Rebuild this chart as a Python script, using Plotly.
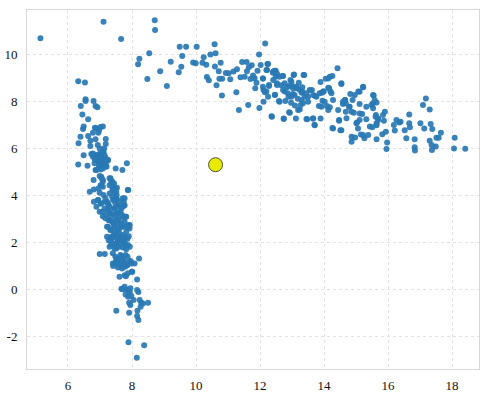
import plotly.graph_objects as go

# ---- data ----
outlier_pts = [(5.14, 10.70), (7.11, 11.40), (7.66, 10.67), (8.71, 11.46), (8.72, 11.05)]

arc_pts = [
    (8.19, 9.59), (8.23, 9.83), (8.54, 10.06), (8.48, 8.96), (8.88, 9.29), (9.09, 8.67), (9.21, 9.70),
    (9.46, 9.25), (9.54, 9.49), (9.49, 10.34), (9.57, 9.94), (9.69, 10.34), (9.91, 9.67), (9.99, 9.63),
    (10.02, 10.34), (10.20, 9.66), (10.24, 9.89), (10.32, 9.57), (10.34, 9.05), (10.40, 8.91), (10.45, 10.01),
    (10.58, 10.44), (10.61, 10.06), (10.59, 9.50), (10.64, 8.70), (10.71, 9.29), (10.73, 8.98), (10.77, 9.66),
    (10.82, 8.98), (10.81, 8.26), (10.93, 9.22), (11.02, 9.21), (11.07, 8.95), (11.17, 9.28), (11.26, 8.40),
    (11.28, 9.38), (11.34, 7.65), (11.39, 9.04), (11.44, 9.69), (11.52, 9.06), (11.58, 9.69), (11.59, 9.30),
    (11.63, 7.86), (11.65, 9.46), (11.70, 8.96), (11.74, 9.55), (11.78, 9.11), (11.83, 9.00), (11.85, 8.57),
    (11.89, 8.81), (11.92, 9.32), (11.97, 10.01), (11.98, 7.73), (12.02, 9.56), (12.09, 8.99), (12.11, 8.50),
    (12.16, 10.47), (12.20, 9.35), (12.15, 8.40), (12.23, 9.60), (12.25, 8.21), (12.28, 8.67), (12.36, 7.38),
    (12.40, 9.23), (12.46, 9.32), (12.47, 8.30), (12.49, 9.06), (12.53, 8.71), (12.59, 8.03), (12.66, 8.70),
    (12.72, 9.09), (12.74, 7.29), (12.77, 8.43), (12.79, 8.03), (12.84, 8.61), (12.89, 8.21), (12.91, 7.55),
    (12.95, 8.92), (12.97, 7.96), (13.01, 8.67), (13.03, 8.33), (13.05, 9.13), (13.09, 7.84), (13.14, 8.57),
    (13.18, 8.13), (13.21, 8.81), (13.24, 7.67), (13.30, 8.38), (13.32, 8.61), (13.36, 9.13), (13.34, 7.93),
    (13.39, 8.21), (13.47, 7.25), (13.50, 8.21), (13.62, 8.50), (13.65, 7.29), (13.70, 7.02), (13.72, 8.24),
    (13.84, 7.82), (13.89, 8.84), (13.89, 7.29), (13.93, 8.38), (13.95, 8.04), (13.99, 8.43), (14.05, 8.98),
    (14.09, 7.82), (14.13, 8.59), (14.18, 9.06), (14.18, 7.76), (14.20, 8.43), (14.26, 9.09), (14.26, 6.88),
    (14.42, 9.42), (14.44, 7.65), (14.47, 7.19), (14.51, 6.79), (14.54, 8.75), (14.59, 7.90), (14.65, 8.07),
    (14.70, 7.30), (14.78, 7.79), (14.82, 8.33), (14.86, 6.30), (14.89, 8.07), (14.93, 7.53), (14.97, 6.48),
    (15.03, 7.11), (15.07, 8.43), (15.11, 7.90), (15.15, 6.60), (15.19, 7.48), (15.22, 8.61), (15.26, 6.45),
    (15.32, 7.25), (15.38, 6.58),
    # dense middle of the arc
    (12.77, 8.78), (12.91, 8.67), (12.98, 8.85), (13.03, 8.57), (13.14, 8.64), (13.24, 8.50), (12.87, 8.36),
    (12.98, 8.21), (13.08, 8.28), (13.32, 8.43), (13.45, 8.36), (13.55, 8.50), (13.66, 8.28), (13.86, 8.36),
    (13.97, 8.43), (14.13, 8.99), (14.16, 8.57), (14.23, 8.36), (14.54, 8.78), (14.59, 8.00), (14.68, 7.93),
    (14.80, 7.79), (14.96, 8.28), (15.11, 8.42), (15.22, 8.64), (15.32, 7.79), (15.11, 7.50), (15.01, 7.08),
    (15.06, 6.86), (15.22, 6.58), (14.86, 6.51), (14.54, 6.79), (14.28, 6.86), (14.47, 7.22), (14.68, 7.57),
    (14.13, 7.65), (13.92, 7.79), (13.66, 7.29), (13.71, 7.00), (13.45, 7.26), (13.12, 7.29), (12.74, 7.26),
    (12.37, 7.36), (12.93, 7.53), (13.19, 7.65), (13.27, 7.86), (12.61, 8.00), (12.46, 8.28), (12.20, 8.43),
    (12.09, 8.64), (12.28, 8.71), (12.53, 8.78), (12.61, 9.06), (12.41, 8.92), (12.11, 8.00), (12.72, 8.50),
    (13.30, 8.07), (13.50, 8.00), (13.76, 8.21), (14.02, 8.00), (14.28, 8.07), (14.66, 8.07), (14.86, 7.57),
    (12.22, 9.35), (12.41, 9.28), (12.49, 9.32), (12.53, 9.19), (12.70, 9.09), (13.06, 9.16), (13.38, 9.13),
    (12.09, 8.99), (12.25, 9.60),
    # right part of the arc
    (15.55, 8.26), (15.48, 7.86), (15.53, 7.93), (15.64, 7.97), (15.62, 7.43), (15.69, 7.29), (15.84, 7.43),
    (15.90, 7.57), (15.87, 7.19), (15.64, 7.08), (15.51, 6.91), (15.64, 6.40), (15.82, 6.62), (15.93, 6.72),
    (15.97, 6.26), (15.95, 5.99), (16.18, 7.01), (16.21, 6.77), (16.26, 7.22), (16.35, 7.11), (16.39, 7.15),
    (16.52, 6.79), (16.57, 6.44), (16.66, 7.08), (16.68, 6.91), (16.66, 7.46), (16.83, 6.40), (16.83, 6.06),
    (16.84, 5.92), (17.01, 7.08), (17.09, 7.86), (17.18, 8.14), (17.30, 7.67), (17.13, 6.86), (17.33, 7.05),
    (17.38, 6.84), (17.30, 6.34), (17.36, 6.16), (17.37, 5.94), (17.49, 6.09), (17.51, 6.47), (17.58, 6.47),
    (17.65, 6.68), (18.08, 6.47), (18.06, 6.01), (18.41, 6.00),
    (15.53, 7.72), (15.43, 6.94), (15.64, 7.00), (15.11, 7.22), (15.61, 7.36), (15.69, 7.22), (15.58, 8.07),
    (15.53, 8.28),
]

left_pts = [
    (6.32, 8.87), (6.53, 8.82), (6.40, 7.82), (6.55, 8.10), (6.55, 8.03), (6.80, 8.03), (6.86, 7.82),
    (6.92, 7.76), (6.45, 7.45), (6.63, 7.25), (6.49, 6.94), (6.47, 6.84), (6.89, 6.87), (6.84, 6.89),
    (6.97, 6.79), (7.02, 6.92), (7.09, 6.94), (6.78, 6.68), (6.95, 6.68), (6.39, 6.51), (6.33, 6.23),
    (6.63, 6.54), (6.70, 6.34), (6.70, 6.11), (6.86, 6.40), (6.93, 6.16), (7.18, 6.41), (7.18, 6.20),
    (6.49, 5.72), (6.32, 5.33), (6.61, 5.28), (6.73, 5.77), (6.78, 5.66), (6.84, 5.55), (6.89, 5.73),
    (6.94, 5.63), (7.00, 5.80), (7.04, 5.69), (7.07, 5.55), (7.11, 5.87), (7.14, 5.73), (7.17, 5.63),
    (6.94, 5.45), (7.00, 5.38), (7.05, 5.30), (7.09, 5.45), (7.14, 5.38), (7.20, 5.26), (7.22, 5.48),
    (7.25, 5.52), (6.98, 5.21), (6.86, 5.09), (7.02, 5.12), (7.09, 5.23), (7.13, 6.01), (6.99, 6.01),
    (6.80, 4.67), (6.81, 4.27), (6.68, 4.17), (6.99, 4.84), (7.05, 4.74), (7.09, 4.60), (7.02, 4.45),
    (6.95, 4.31), (7.09, 4.38), (6.99, 4.13), (7.49, 5.16), (7.70, 5.09), (7.84, 5.38), (7.33, 4.74),
    (7.38, 4.60), (7.44, 4.52), (7.53, 4.34), (7.30, 4.45), (7.40, 4.31), (7.45, 4.13), (7.52, 4.03),
    (7.88, 4.24), (6.81, 3.74), (6.94, 3.82), (7.02, 3.67), (6.89, 3.53), (6.99, 3.32), (7.11, 4.03),
    (7.17, 3.89), (7.22, 3.74), (7.27, 3.60), (7.14, 3.46), (7.25, 3.39), (7.32, 3.25), (7.09, 3.13),
    (7.17, 3.04), (7.38, 3.96), (7.43, 3.82), (7.48, 3.67), (7.53, 3.84), (7.58, 3.53), (7.45, 3.46),
    (7.50, 3.25), (7.64, 3.32), (7.69, 3.18), (7.74, 3.56), (7.71, 3.89), (7.74, 3.74), (7.27, 2.96),
    (7.38, 2.89), (7.43, 2.75), (7.53, 2.99), (7.58, 2.82), (7.22, 2.68), (7.32, 2.54), (7.48, 2.47),
    (7.60, 2.61), (7.69, 2.68), (7.77, 2.89), (7.80, 3.11), (7.90, 2.75), (7.92, 2.61), (7.22, 2.26),
    (7.27, 2.11), (7.35, 2.18), (7.43, 2.33), (7.48, 2.23), (7.56, 2.09), (7.64, 2.28), (7.71, 2.14),
    (7.80, 2.23), (7.86, 2.17), (7.90, 2.28),
    # dense middle (upper)
    (6.78, 5.80), (6.89, 5.66), (6.99, 5.73), (7.09, 5.87), (6.94, 5.52), (7.04, 5.38), (7.15, 5.45),
    (7.25, 5.52), (6.83, 5.38), (6.97, 5.23), (7.09, 5.16), (7.20, 5.23), (6.89, 5.09), (7.04, 4.81),
    (7.09, 4.67), (7.04, 4.45), (7.30, 4.74), (7.35, 4.60), (7.41, 4.45), (7.46, 4.31), (7.51, 4.17),
    (7.39, 4.24), (7.30, 4.10), (6.94, 3.82), (7.04, 3.67), (7.15, 3.74), (7.25, 3.67), (7.30, 3.53),
    (7.41, 3.82), (7.51, 3.89), (7.61, 3.74), (7.56, 3.60), (7.46, 3.46), (7.67, 3.46), (7.77, 3.89),
    (7.77, 3.60), (7.87, 4.24), (7.09, 3.32), (7.20, 3.18), (7.30, 3.32), (7.35, 3.11), (7.46, 3.18),
    (7.56, 3.25), (7.61, 3.04), (7.72, 3.11), (7.51, 2.96), (7.41, 2.89), (7.30, 2.96), (7.67, 2.82),
    (7.82, 3.11), (7.77, 2.68), (7.25, 2.68), (7.35, 2.54), (7.46, 2.68), (7.56, 2.54), (7.61, 2.40),
    (7.46, 2.33), (7.35, 2.26), (7.56, 2.18), (7.72, 2.33), (7.82, 2.47), (7.87, 2.68), (7.93, 2.75),
    (7.67, 2.11), (7.77, 1.97), (7.51, 1.97), (7.35, 2.04), (7.30, 1.83), (7.46, 1.76), (7.61, 1.83),
    (7.82, 1.83), (7.93, 1.83), (7.72, 2.18),
    # lower part
    (7.35, 1.90), (7.46, 1.97), (7.61, 1.94), (7.77, 2.00), (7.87, 1.90), (7.51, 1.76), (7.72, 1.80),
    (7.82, 1.72), (6.99, 1.52), (7.15, 1.52), (7.51, 1.33), (7.67, 1.40), (7.80, 1.48), (7.46, 1.12),
    (7.61, 1.15), (7.77, 1.19), (7.93, 1.23), (8.08, 1.12), (7.41, 1.01), (7.56, 0.95), (7.72, 0.98),
    (7.84, 1.05), (7.98, 1.12), (8.22, 1.33), (7.61, 0.55), (7.77, 0.62), (7.87, 0.70), (8.01, 0.77),
    (8.16, 0.44), (7.70, 0.02), (7.77, 0.13), (7.84, -0.01), (7.93, -0.09), (7.98, -0.27), (8.16, -0.01),
    (8.20, -0.09), (8.24, -0.44), (8.29, -0.55), (7.91, -0.55), (7.95, -0.65), (8.50, -0.55), (8.27, -0.72),
    (7.51, -0.89), (7.91, -0.98), (8.17, -0.89), (8.16, -1.12), (8.20, -1.29), (7.89, -2.23), (8.38, -2.36),
    (8.15, -2.89),
    (7.40, 1.55), (7.48, 1.40), (7.56, 1.26), (7.64, 1.48), (7.71, 1.34), (7.86, 1.40), (7.74, 1.12),
    (7.40, 1.12), (7.50, 1.19), (7.60, 1.05), (7.69, 0.91), (7.79, 0.98), (7.86, 1.05), (7.97, 1.19),
    (7.99, 0.77), (7.81, 0.58), (7.67, 0.04), (7.89, -0.02), (7.95, 0.06), (7.80, -0.20), (7.88, -0.30),
    (8.05, -0.44), (8.34, -0.58),
]

highlight_x = [10.61]
highlight_y = [5.32]

x_ticks = [6, 8, 10, 12, 14, 16, 18]
x_tick_labels = ["6", "8", "10", "12", "14", "16", "18"]
y_ticks = [-2, 0, 2, 4, 6, 8, 10]
y_tick_labels = ["-2", "0", "2", "4", "6", "8", "10"]

all_pts = outlier_pts + arc_pts + left_pts
px = [p[0] for p in all_pts]
py = [p[1] for p in all_pts]

SERIF = "Liberation Serif, Times New Roman, serif"

fig = go.Figure()
fig.add_trace(go.Scatter(
    x=px, y=py, mode="markers",
    marker=dict(size=6, color="rgb(40,120,180)", opacity=0.92, line=dict(width=0)),
    hoverinfo="skip", showlegend=False,
))
fig.add_trace(go.Scatter(
    x=highlight_x, y=highlight_y, mode="markers",
    marker=dict(size=14, color="rgb(230,235,0)", line=dict(width=1, color="rgb(80,80,60)")),
    hoverinfo="skip", showlegend=False,
))

axis_common = dict(
    showgrid=True, gridcolor="#e3e3e3", griddash="3px,3px", gridwidth=1,
    showline=True, linecolor="#d8d8d8", linewidth=1, mirror=True,
    zeroline=False, ticks="",
    tickfont=dict(family=SERIF, size=13, color="#111"),
)

fig.update_layout(
    width=490, height=394,
    margin=dict(l=27, r=11, t=10, b=25, autoexpand=False),
    font=dict(family=SERIF),
    paper_bgcolor="white", plot_bgcolor="white",
    xaxis=dict(range=[4.72, 18.84], tickvals=x_ticks, ticktext=x_tick_labels,
               ticklabelstandoff=4, **axis_common),
    yaxis=dict(range=[-3.37, 11.9], tickvals=y_ticks, ticktext=y_tick_labels,
               ticklabelstandoff=6, **axis_common),
)

# remove the default page margin so the figure sits at the window's top-left corner
fig.write_html(
    "out.html",
    config={"displayModeBar": False},
    post_script="document.body.style.margin='0';document.body.style.overflow='hidden';",
)
